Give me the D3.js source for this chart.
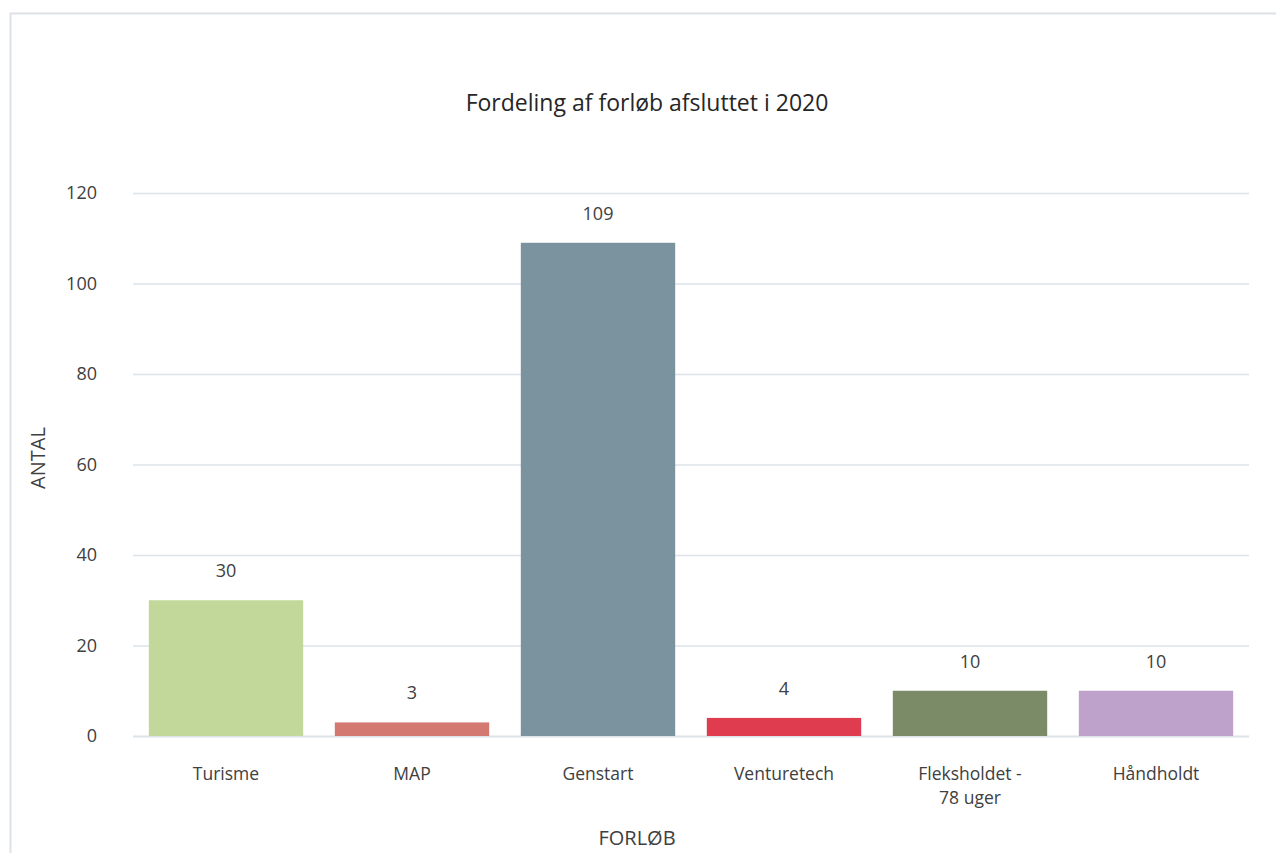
<!DOCTYPE html>
<meta charset="utf-8"/>
<title>Fordeling af forløb afsluttet i 2020</title>
<script src="https://d3js.org/d3.v7.min.js"></script>
<style>
  body { margin: 0; background: #fff; }
  svg text { font-family: 'Open Sans', 'Noto Sans', sans-serif; fill: #404040; }
</style>
<svg width=1276 height=853></svg>
<script>
  const categories = ["Turisme", "MAP", "Genstart", "Venturetech", "Fleksholdet - 78 uger", "Håndholdt"];
  const values = [30, 3, 109, 4, 10, 10];
  const colors = ["#c1d89a", "#d47872", "#7b939e", "#e03c50", "#7b8b68", "#bfa2cb"];
  const yTicks = [0, 20, 40, 60, 80, 100, 120];

  const svg = d3.select("svg");
  const m = {left: 133, right: 1249, top: 193, bottom: 736};

  // outer frame
  svg.append("rect")
    .attr("x", 10.5).attr("y", 13.5)
    .attr("width", 1300).attr("height", 900)
    .style("fill", "none").style("stroke", "#dde2e8").style("stroke-width", 2);

  const x = d3.scaleBand().domain(categories).range([m.left, m.right]).paddingInner(0.17).paddingOuter(0.085);
  const y = d3.scaleLinear().domain([0, 120]).range([m.bottom, m.top]);

  // grid
  svg.append("g").selectAll("line").data(yTicks).join("line")
    .attr("x1", m.left).attr("x2", m.right)
    .attr("y1", d => y(d) + 0.5).attr("y2", d => y(d) + 0.5)
    .style("stroke", "#dde3e8").style("stroke-width", d => d === 0 ? 2 : 1.5);

  // y axis labels
  const yAxis = d3.axisLeft(y).tickValues(yTicks).tickSize(0).tickPadding(0);
  svg.append("g").attr("transform", "translate(97,0)").call(yAxis)
    .call(g => g.select(".domain").remove())
    .selectAll("text").style("font-size", "18px").style("font-family", null).attr("fill", null);

  // bars
  svg.append("g").selectAll("rect").data(values).join("rect")
    .attr("x", (d, i) => x(categories[i]))
    .attr("width", x.bandwidth())
    .attr("y", d => y(d))
    .attr("height", d => y(0) - y(d))
    .style("fill", (d, i) => colors[i]);

  // value labels
  svg.append("g").selectAll("text").data(values).join("text")
    .attr("x", (d, i) => x(categories[i]) + x.bandwidth() / 2)
    .attr("y", d => y(d) - 23)
    .attr("text-anchor", "middle")
    .style("font-size", "18px")
    .text(d => d);

  // category labels (wrap)
  const catLines = {"Fleksholdet - 78 uger": ["Fleksholdet -", "78 uger"]};
  const cl = svg.append("g").selectAll("text").data(categories).join("text")
    .attr("x", d => x(d) + x.bandwidth() / 2)
    .attr("y", 780)
    .attr("text-anchor", "middle")
    .style("font-size", "17.5px");
  cl.each(function (d) {
    const lines = catLines[d] || [d];
    const t = d3.select(this);
    lines.forEach((l, i) => {
      t.append("tspan").attr("x", x(d) + x.bandwidth() / 2).attr("dy", i === 0 ? 0 : 24).text(l);
    });
  });

  // title
  svg.append("text").attr("x", 647).attr("y", 111).attr("text-anchor", "middle")
    .style("font-size", "23px").style("fill", "#262626").text("Fordeling af forløb afsluttet i 2020");

  // axis titles
  svg.append("text").attr("transform", "translate(45,458)rotate(-90)").attr("text-anchor", "middle")
    .style("font-size", "20px").text("ANTAL");
  svg.append("text").attr("x", 637).attr("y", 845).attr("text-anchor", "middle")
    .style("font-size", "20px").text("FORLØB");
</script>
